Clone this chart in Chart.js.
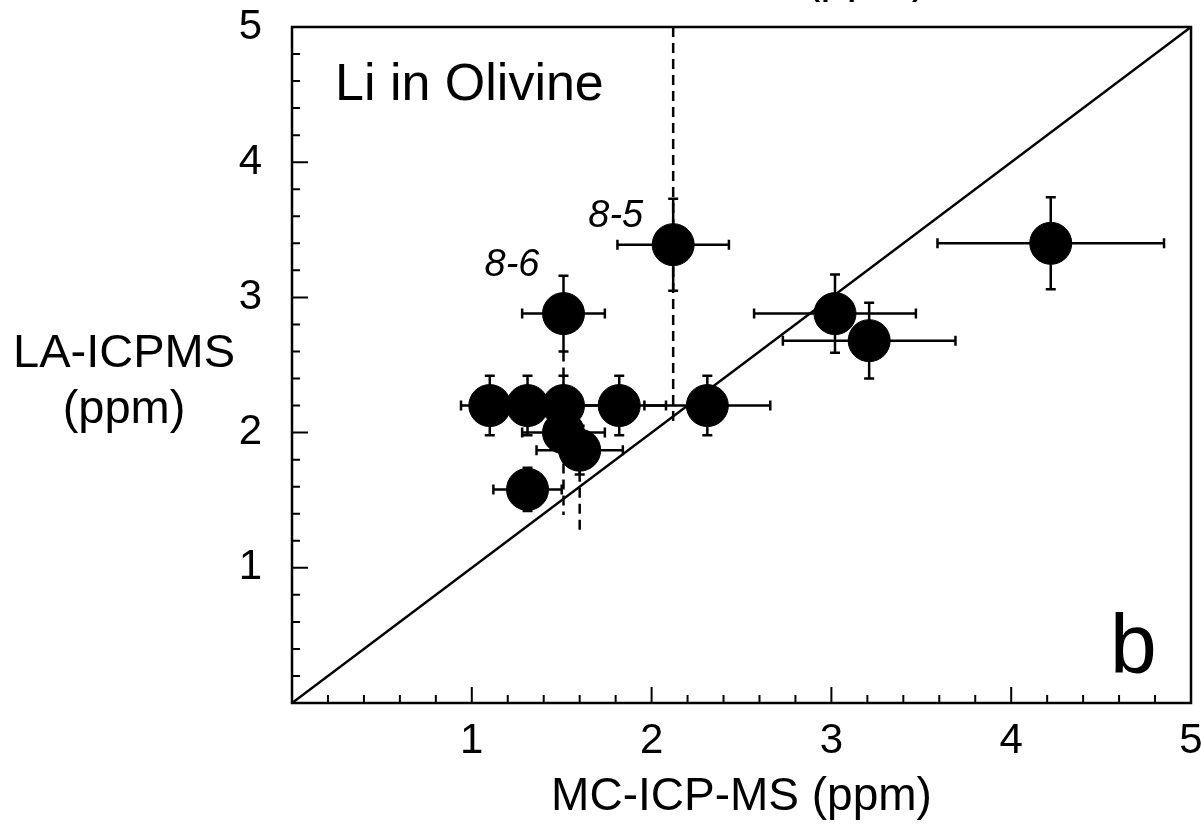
<!DOCTYPE html>
<html>
<head>
<meta charset="utf-8">
<title>Li in Olivine</title>
<script src="https://cdn.jsdelivr.net/npm/chart.js@4.4.1/dist/chart.umd.min.js"></script>
<style>
  html, body { margin: 0; padding: 0; background: #fff; }
  #wrap { width: 1201px; height: 829px; }
</style>
</head>
<body>
<div id="wrap"><canvas id="liChart" width="1201" height="829"></canvas></div>
<script>
// Li in olivine: MC-ICP-MS (x) against LA-ICPMS (y), both in ppm
const mcValues = [2.12, 1.51, 1.10, 1.31, 1.51, 1.82, 2.31, 1.51, 1.60, 1.31, 3.02, 3.21, 4.22];
const laValues = [3.39, 2.88, 2.20, 2.20, 2.20, 2.20, 2.20, 2.00, 1.87, 1.58, 2.88, 2.68, 3.40];
const mcErrors = [0.31, 0.23, 0.16, 0.18, 0.20, 0.26, 0.35, 0.23, 0.24, 0.19, 0.45, 0.48, 0.63];
const laErrors = [0.34, 0.28, 0.22, 0.22, 0.22, 0.22, 0.22, 0.15, 0.18, 0.16, 0.29, 0.28, 0.34];
const sampleNames = ['8-5', '8-6', '', '', '', '', '', '', '', '', '', '', ''];

// dashed extensions of a few error bars
const dashX = [2.12, 1.51, 1.60];
const dashTop = [5.00, 2.60, 1.71];
const dashBottom = [2.06, 1.39, 1.24];

// 1:1 reference line
const oneToOne = [0, 5];
const axisTicks = [1, 2, 3, 4, 5];

const FONT = '"Liberation Sans", Arial, Helvetica, sans-serif';

const points = mcValues.map((x, i) => ({ x: x, y: laValues[i] }));

const dashSets = dashX.map((x, i) => ({
    type: 'line',
    data: [{ x: x, y: dashTop[i] }, { x: x, y: dashBottom[i] }],
    borderColor: '#000',
    borderWidth: 2.5,
    borderDash: [10, 6],
    pointRadius: 0,
    order: 3
}));

// error bars, drawn below the markers
const errorBars = {
    id: 'errorBars',
    beforeDatasetsDraw(chart) {
        const ctx = chart.ctx;
        const xs = chart.scales.x;
        const ys = chart.scales.y;
        const cap = 5;
        ctx.save();
        ctx.strokeStyle = '#000';
        ctx.lineWidth = 2.5;
        mcValues.forEach((mx, i) => {
            const px = xs.getPixelForValue(mx);
            const py = ys.getPixelForValue(laValues[i]);
            const x0 = xs.getPixelForValue(mx - mcErrors[i]);
            const x1 = xs.getPixelForValue(mx + mcErrors[i]);
            const y0 = ys.getPixelForValue(laValues[i] - laErrors[i]);
            const y1 = ys.getPixelForValue(laValues[i] + laErrors[i]);
            ctx.beginPath();
            ctx.moveTo(x0, py); ctx.lineTo(x1, py);
            ctx.moveTo(x0, py - cap); ctx.lineTo(x0, py + cap);
            ctx.moveTo(x1, py - cap); ctx.lineTo(x1, py + cap);
            ctx.moveTo(px, y0); ctx.lineTo(px, y1);
            ctx.moveTo(px - cap, y0); ctx.lineTo(px + cap, y0);
            ctx.moveTo(px - cap, y1); ctx.lineTo(px + cap, y1);
            ctx.stroke();
        });
        ctx.restore();
    }
};

// frame, inward ticks and the free text
const frameAndText = {
    id: 'frameAndText',
    afterDraw(chart) {
        const ctx = chart.ctx;
        const area = chart.chartArea;
        const xs = chart.scales.x;
        const ys = chart.scales.y;
        ctx.save();
        ctx.strokeStyle = '#000';
        ctx.lineWidth = 2.5;
        ctx.strokeRect(area.left, area.top, area.right - area.left, area.bottom - area.top);

        ctx.lineWidth = 2;
        ctx.beginPath();
        for (let k = 1; k < 25; k++) {
            const v = k / 5;
            const len = k % 5 === 0 ? 16 : 8;
            const tx = xs.getPixelForValue(v);
            ctx.moveTo(tx, area.bottom); ctx.lineTo(tx, area.bottom - len);
            const ty = ys.getPixelForValue(v);
            ctx.moveTo(area.left, ty); ctx.lineTo(area.left + len, ty);
        }
        ctx.stroke();

        ctx.fillStyle = '#000';
        ctx.textBaseline = 'alphabetic';

        ctx.font = '52px ' + FONT;
        ctx.textAlign = 'left';
        ctx.fillText('Li in Olivine', 335, 100);

        ctx.font = '84px ' + FONT;
        ctx.fillText('b', 1110, 673);

        ctx.font = '47px ' + FONT;
        ctx.textAlign = 'center';
        ctx.fillText('LA-ICPMS', 124, 367);
        ctx.fillText('(ppm)', 124, 423);
        // leftover of a caption cut off at the top edge
        ctx.fillText('(ppm)', 866, -8);

        ctx.font = 'italic 38px ' + FONT;
        ctx.textAlign = 'right';
        const offsets = [[-30, -18], [-24, -38]];
        sampleNames.forEach((name, i) => {
            if (!name) return;
            const px = xs.getPixelForValue(mcValues[i]);
            const py = ys.getPixelForValue(laValues[i]);
            ctx.fillText(name, px + offsets[i][0], py + offsets[i][1]);
        });
        ctx.restore();
    }
};

new Chart(document.getElementById('liChart'), {
    type: 'scatter',
    data: {
        datasets: [
            {
                label: 'Li in Olivine',
                data: points,
                backgroundColor: '#000',
                borderColor: '#000',
                pointRadius: 21,
                pointHoverRadius: 21,
                order: 0
            },
            {
                type: 'line',
                label: '1:1',
                data: oneToOne.map(v => ({ x: v, y: v })),
                borderColor: '#000',
                borderWidth: 2.5,
                pointRadius: 0,
                order: 2
            },
            ...dashSets
        ]
    },
    options: {
        responsive: false,
        animation: false,
        layout: { autoPadding: false, padding: { top: 27, right: 10, left: 0, bottom: 0 } },
        plugins: {
            legend: { display: false },
            tooltip: { enabled: false }
        },
        scales: {
            x: {
                type: 'linear',
                min: 0,
                max: 5,
                afterFit(scale) {
                    scale.height = 126;
                    scale.paddingLeft = 0;
                    scale.paddingRight = 0;
                },
                afterBuildTicks(scale) { scale.ticks = axisTicks.map(v => ({ value: v })); },
                grid: { display: false, drawTicks: false },
                border: { display: false },
                ticks: {
                    padding: 13,
                    color: '#000',
                    font: { family: FONT, size: 42 }
                },
                title: {
                    display: true,
                    text: 'MC-ICP-MS (ppm)',
                    color: '#000',
                    font: { family: FONT, size: 46 },
                    padding: { top: 0, bottom: 4 }
                }
            },
            y: {
                type: 'linear',
                min: 0,
                max: 5,
                afterFit(scale) {
                    scale.width = 292;
                    scale.paddingTop = 0;
                    scale.paddingBottom = 0;
                },
                afterBuildTicks(scale) { scale.ticks = axisTicks.map(v => ({ value: v })); },
                grid: { display: false, drawTicks: false },
                border: { display: false },
                ticks: {
                    padding: 30,
                    color: '#000',
                    font: { family: FONT, size: 42 }
                }
            }
        }
    },
    plugins: [errorBars, frameAndText]
});
</script>
</body>
</html>
